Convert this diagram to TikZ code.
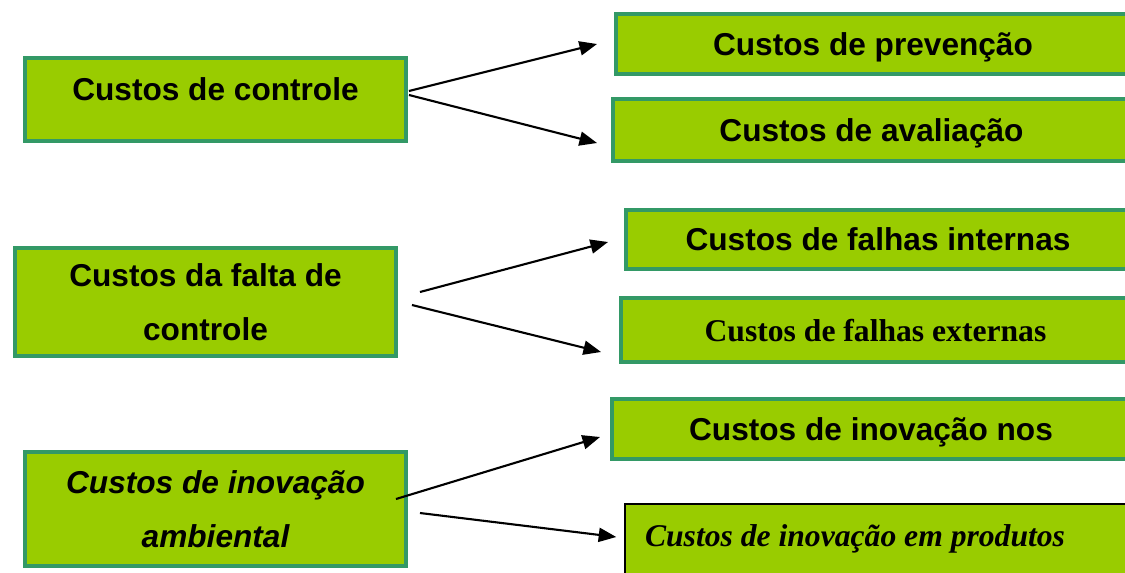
\documentclass[tikz,border=0pt]{standalone}
\usepackage{fontspec}
\setmainfont{Liberation Serif}
\setsansfont{Liberation Sans}
\usetikzlibrary{arrows.meta}
\definecolor{boxfill}{HTML}{99CC00}
\definecolor{boxline}{HTML}{339966}
\begin{document}
\begin{tikzpicture}[x=0.02cm, y=-0.02cm,
    leftbox/.style={draw=boxline, fill=boxfill, line width=2.3pt, shape=rectangle, minimum width=7.62cm, inner sep=0pt, align=center, font=\sffamily\bfseries\fontsize{18}{31}\selectfont},
    rightbox/.style={draw=boxline, fill=boxfill, line width=2.3pt, shape=rectangle, inner sep=0pt, text height=13pt, text depth=0pt, font=\sffamily\bfseries\fontsize{18}{22}\selectfont},
    arrow/.style={line width=1.2pt, -{Triangle[length=10pt, width=8pt]}}
]
\useasboundingbox (0,0) rectangle (1125,572);
% --- linke Spalte ---
\node[leftbox, minimum height=1.66cm, text height=13pt, text depth=12.4pt] (ctrl) at (215.5,99.5) {Custos de controle};
\node[leftbox, minimum height=2.16cm] (nctrl) at (205.5,302) {Custos da falta de\\controle};
\node[leftbox, minimum height=2.28cm, font=\sffamily\bfseries\itshape\fontsize{18}{31}\selectfont] (inov) at (215.5,509) {Custos de inova\c{c}\~ao\\ambiental};
% --- rechte Spalte ---
\node[rightbox, minimum width=10.28cm, minimum height=1.2cm] (prev) at (873,44) {Custos de preven\c{c}\~ao};
\node[rightbox, minimum width=10.34cm, minimum height=1.24cm] (aval) at (871.5,130) {Custos de avalia\c{c}\~ao};
\node[rightbox, minimum width=10.08cm, minimum height=1.18cm] (fint) at (878,239.5) {Custos de falhas internas};
\node[rightbox, minimum width=10.18cm, minimum height=1.28cm, font=\rmfamily\bfseries\fontsize{18}{22}\selectfont] (fext) at (875.5,330) {Custos de falhas externas};
\node[rightbox, minimum width=10.36cm, minimum height=1.2cm] (proc) at (871,429) {Custos de inova\c{c}\~ao nos};
\node[rightbox, draw=black, line width=0.9pt, minimum width=10.1cm, minimum height=1.52cm, text depth=7.6pt, font=\rmfamily\bfseries\itshape\fontsize{18}{22}\selectfont] (prod) at (877.5,542) {\makebox[9.3cm][l]{Custos de inova\c{c}\~ao em produtos}};
% --- Pfeile ---
\draw[arrow] ([shift={(1,-8.5)}]ctrl.east) -- ([shift={(-17,0)}]prev.west);
\draw[arrow] ([shift={(1,-4.5)}]ctrl.east) -- ([shift={(-14,13)}]aval.west);
\draw[arrow] ([shift={(22,-10)}]nctrl.east) -- ([shift={(-16,2.5)}]fint.west);
\draw[arrow] ([shift={(14,3)}]nctrl.east) -- ([shift={(-18,22)}]fext.west);
\draw[arrow] ([shift={(-12,-10)}]inov.east) -- ([shift={(-10,8)}]proc.west);
\draw[arrow] ([shift={(12,4)}]inov.east) -- ([shift={(-8,-5)}]prod.west);
\end{tikzpicture}
\end{document}
